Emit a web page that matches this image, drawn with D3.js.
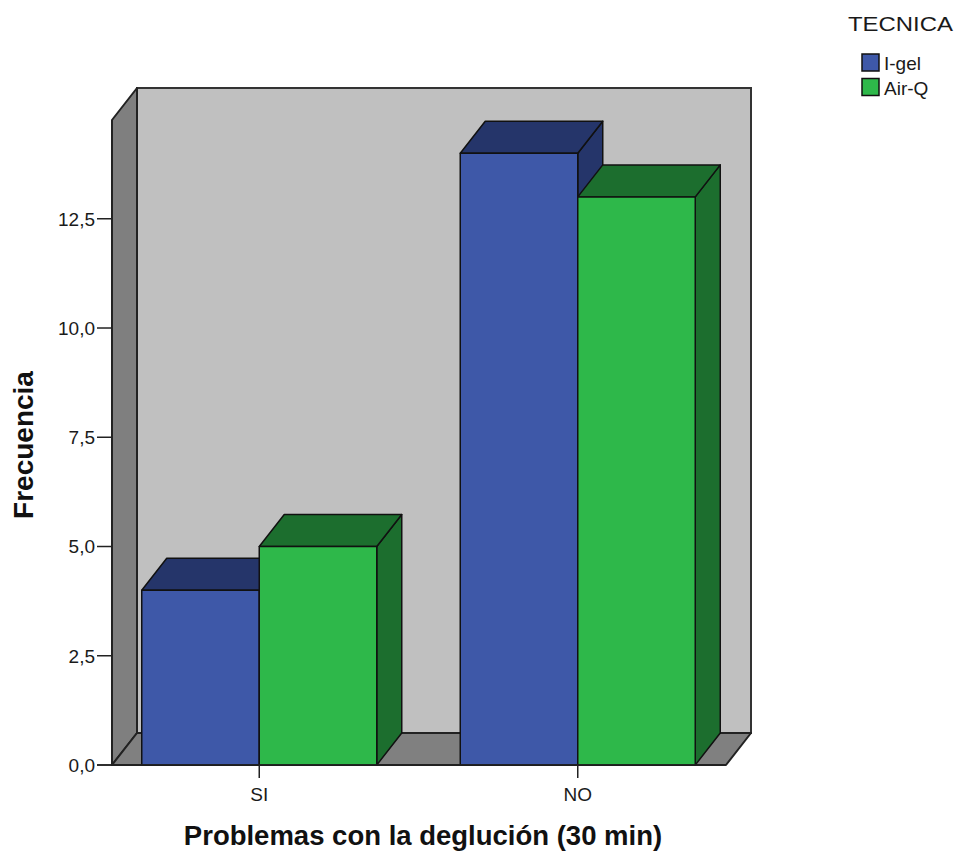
<!DOCTYPE html>
<html>
<head>
<meta charset="utf-8">
<script src="https://cdn.jsdelivr.net/npm/d3@7"></script>
<style>
  html, body { margin: 0; padding: 0; background: #fff; }
  svg { display: block; }
  text { font-family: "Liberation Sans", Arial, sans-serif; }
</style>
</head>
<body>
<script>
// Frequencies of swallowing problems at 30 min, by airway device
const categories = ["SI", "NO"];
const series = ["I-gel", "Air-Q"];
const igelValues = [4, 14];
const airqValues = [5, 13];
const yTickValues = [0, 2.5, 5, 7.5, 10, 12.5];
const yMax = 14.76;
const legendTitle = "TECNICA";
const xTitle = "Problemas con la deglución (30 min)";
const yTitle = "Frecuencia";

const W = 959, H = 852;
const frontLeft = 112, frontRight = 726, baseY = 765, topY = 120;
const dx = 25, dy = 32;            // depth offset of the 3D box
const groupWidth = 235;

const faceColors = {
  "I-gel": { front: "#3e58a8", dark: "#25356a" },
  "Air-Q": { front: "#2eb84a", dark: "#1c6e2e" }
};

const svg = d3.select("body").append("svg").attr("width", W).attr("height", H);

const y = d3.scaleLinear().domain([0, yMax]).range([baseY, topY]);
const x = d3.scaleBand().domain(categories).range([100, 737]).padding(0);
const xSub = d3.scaleBand().domain(series).range([-groupWidth / 2, groupWidth / 2]);

const pts = a => a.map(p => p.join(",")).join(" ");

// Back wall
svg.append("rect")
  .attr("x", frontLeft + dx).attr("y", topY - dy)
  .attr("width", frontRight - frontLeft).attr("height", baseY - topY)
  .attr("fill", "#c0c0c0").attr("stroke", "#333").attr("stroke-width", 2);

// Left side wall
svg.append("polygon")
  .attr("points", pts([[frontLeft, topY], [frontLeft + dx, topY - dy], [frontLeft + dx, baseY - dy], [frontLeft, baseY]]))
  .attr("fill", "#7f7f7f").attr("stroke", "#222").attr("stroke-width", 2).attr("stroke-linejoin", "round");

// Floor
svg.append("polygon")
  .attr("points", pts([[frontLeft, baseY], [frontLeft + dx, baseY - dy], [frontRight + dx, baseY - dy], [frontRight, baseY]]))
  .attr("fill", "#808080").attr("stroke", "#222").attr("stroke-width", 2).attr("stroke-linejoin", "round");

// Y axis ticks and labels
const yAxis = svg.append("g");
yAxis.selectAll("line").data(yTickValues).join("line")
  .attr("x1", frontLeft - 15).attr("x2", frontLeft)
  .attr("y1", d => y(d)).attr("y2", d => y(d))
  .attr("stroke", "#222").attr("stroke-width", 1.5);
yAxis.selectAll("text").data(yTickValues).join("text")
  .attr("x", frontLeft - 17).attr("y", d => y(d)).attr("dy", "0.36em")
  .attr("text-anchor", "end").attr("font-size", 19).attr("fill", "#1a1a1a")
  .text(d => d3.format(".1f")(d).replace(".", ","));

// Bars
const rows = [];
categories.forEach((c, i) => {
  rows.push({ cat: c, s: "I-gel", v: igelValues[i] });
  rows.push({ cat: c, s: "Air-Q", v: airqValues[i] });
});

const bars = svg.append("g").selectAll("g").data(rows).join("g");
bars.each(function (d) {
  const g = d3.select(this);
  const x0 = x(d.cat) + x.bandwidth() / 2 + xSub(d.s);
  const x1 = x0 + xSub.bandwidth();
  const yv = y(d.v), y0 = y(0);
  const col = faceColors[d.s];
  const outline = sel => sel.attr("stroke", "#111").attr("stroke-width", 1.5).attr("stroke-linejoin", "round");
  // side face
  outline(g.append("polygon")
    .attr("points", pts([[x1, yv], [x1 + dx, yv - dy], [x1 + dx, y0 - dy], [x1, y0]]))
    .attr("fill", col.dark));
  // top face
  outline(g.append("polygon")
    .attr("points", pts([[x0, yv], [x0 + dx, yv - dy], [x1 + dx, yv - dy], [x1, yv]]))
    .attr("fill", col.dark));
  // front face
  outline(g.append("rect")
    .attr("x", x0).attr("y", yv).attr("width", x1 - x0).attr("height", y0 - yv)
    .attr("fill", col.front));
});

// Baseline and x ticks
svg.append("line")
  .attr("x1", frontLeft - 15).attr("x2", frontRight)
  .attr("y1", baseY).attr("y2", baseY)
  .attr("stroke", "#222").attr("stroke-width", 1.5);
const xAxis = svg.append("g");
xAxis.selectAll("line").data(categories).join("line")
  .attr("x1", d => x(d) + x.bandwidth() / 2).attr("x2", d => x(d) + x.bandwidth() / 2)
  .attr("y1", baseY).attr("y2", baseY + 13)
  .attr("stroke", "#222").attr("stroke-width", 1.5);
xAxis.selectAll("text").data(categories).join("text")
  .attr("x", d => x(d) + x.bandwidth() / 2).attr("y", 801)
  .attr("text-anchor", "middle").attr("font-size", 19).attr("fill", "#1a1a1a")
  .text(d => d);

// Axis titles
svg.append("text")
  .attr("x", (frontLeft + frontRight) / 2 + 4).attr("y", 845)
  .attr("text-anchor", "middle").attr("font-size", 27.5).attr("font-weight", "bold")
  .attr("fill", "#111").text(xTitle);
svg.append("text")
  .attr("transform", "translate(33,445) rotate(-90)")
  .attr("text-anchor", "middle").attr("font-size", 28).attr("font-weight", "bold")
  .attr("fill", "#111").text(yTitle);

// Legend
const legend = svg.append("g");
legend.append("text")
  .attr("x", 848).attr("y", 31).attr("font-size", 21).attr("fill", "#1a1a1a")
  .attr("textLength", 105).attr("lengthAdjust", "spacingAndGlyphs")
  .text(legendTitle);
const items = legend.selectAll("g.item").data(series).join("g")
  .attr("transform", (d, i) => `translate(862,${54 + i * 24.5})`);
items.append("rect")
  .attr("width", 17).attr("height", 17)
  .attr("fill", d => faceColors[d].front).attr("stroke", "#111").attr("stroke-width", 1.5);
items.append("text")
  .attr("x", 22).attr("y", 16).attr("font-size", 19).attr("fill", "#1a1a1a")
  .text(d => d);
</script>
</body>
</html>
